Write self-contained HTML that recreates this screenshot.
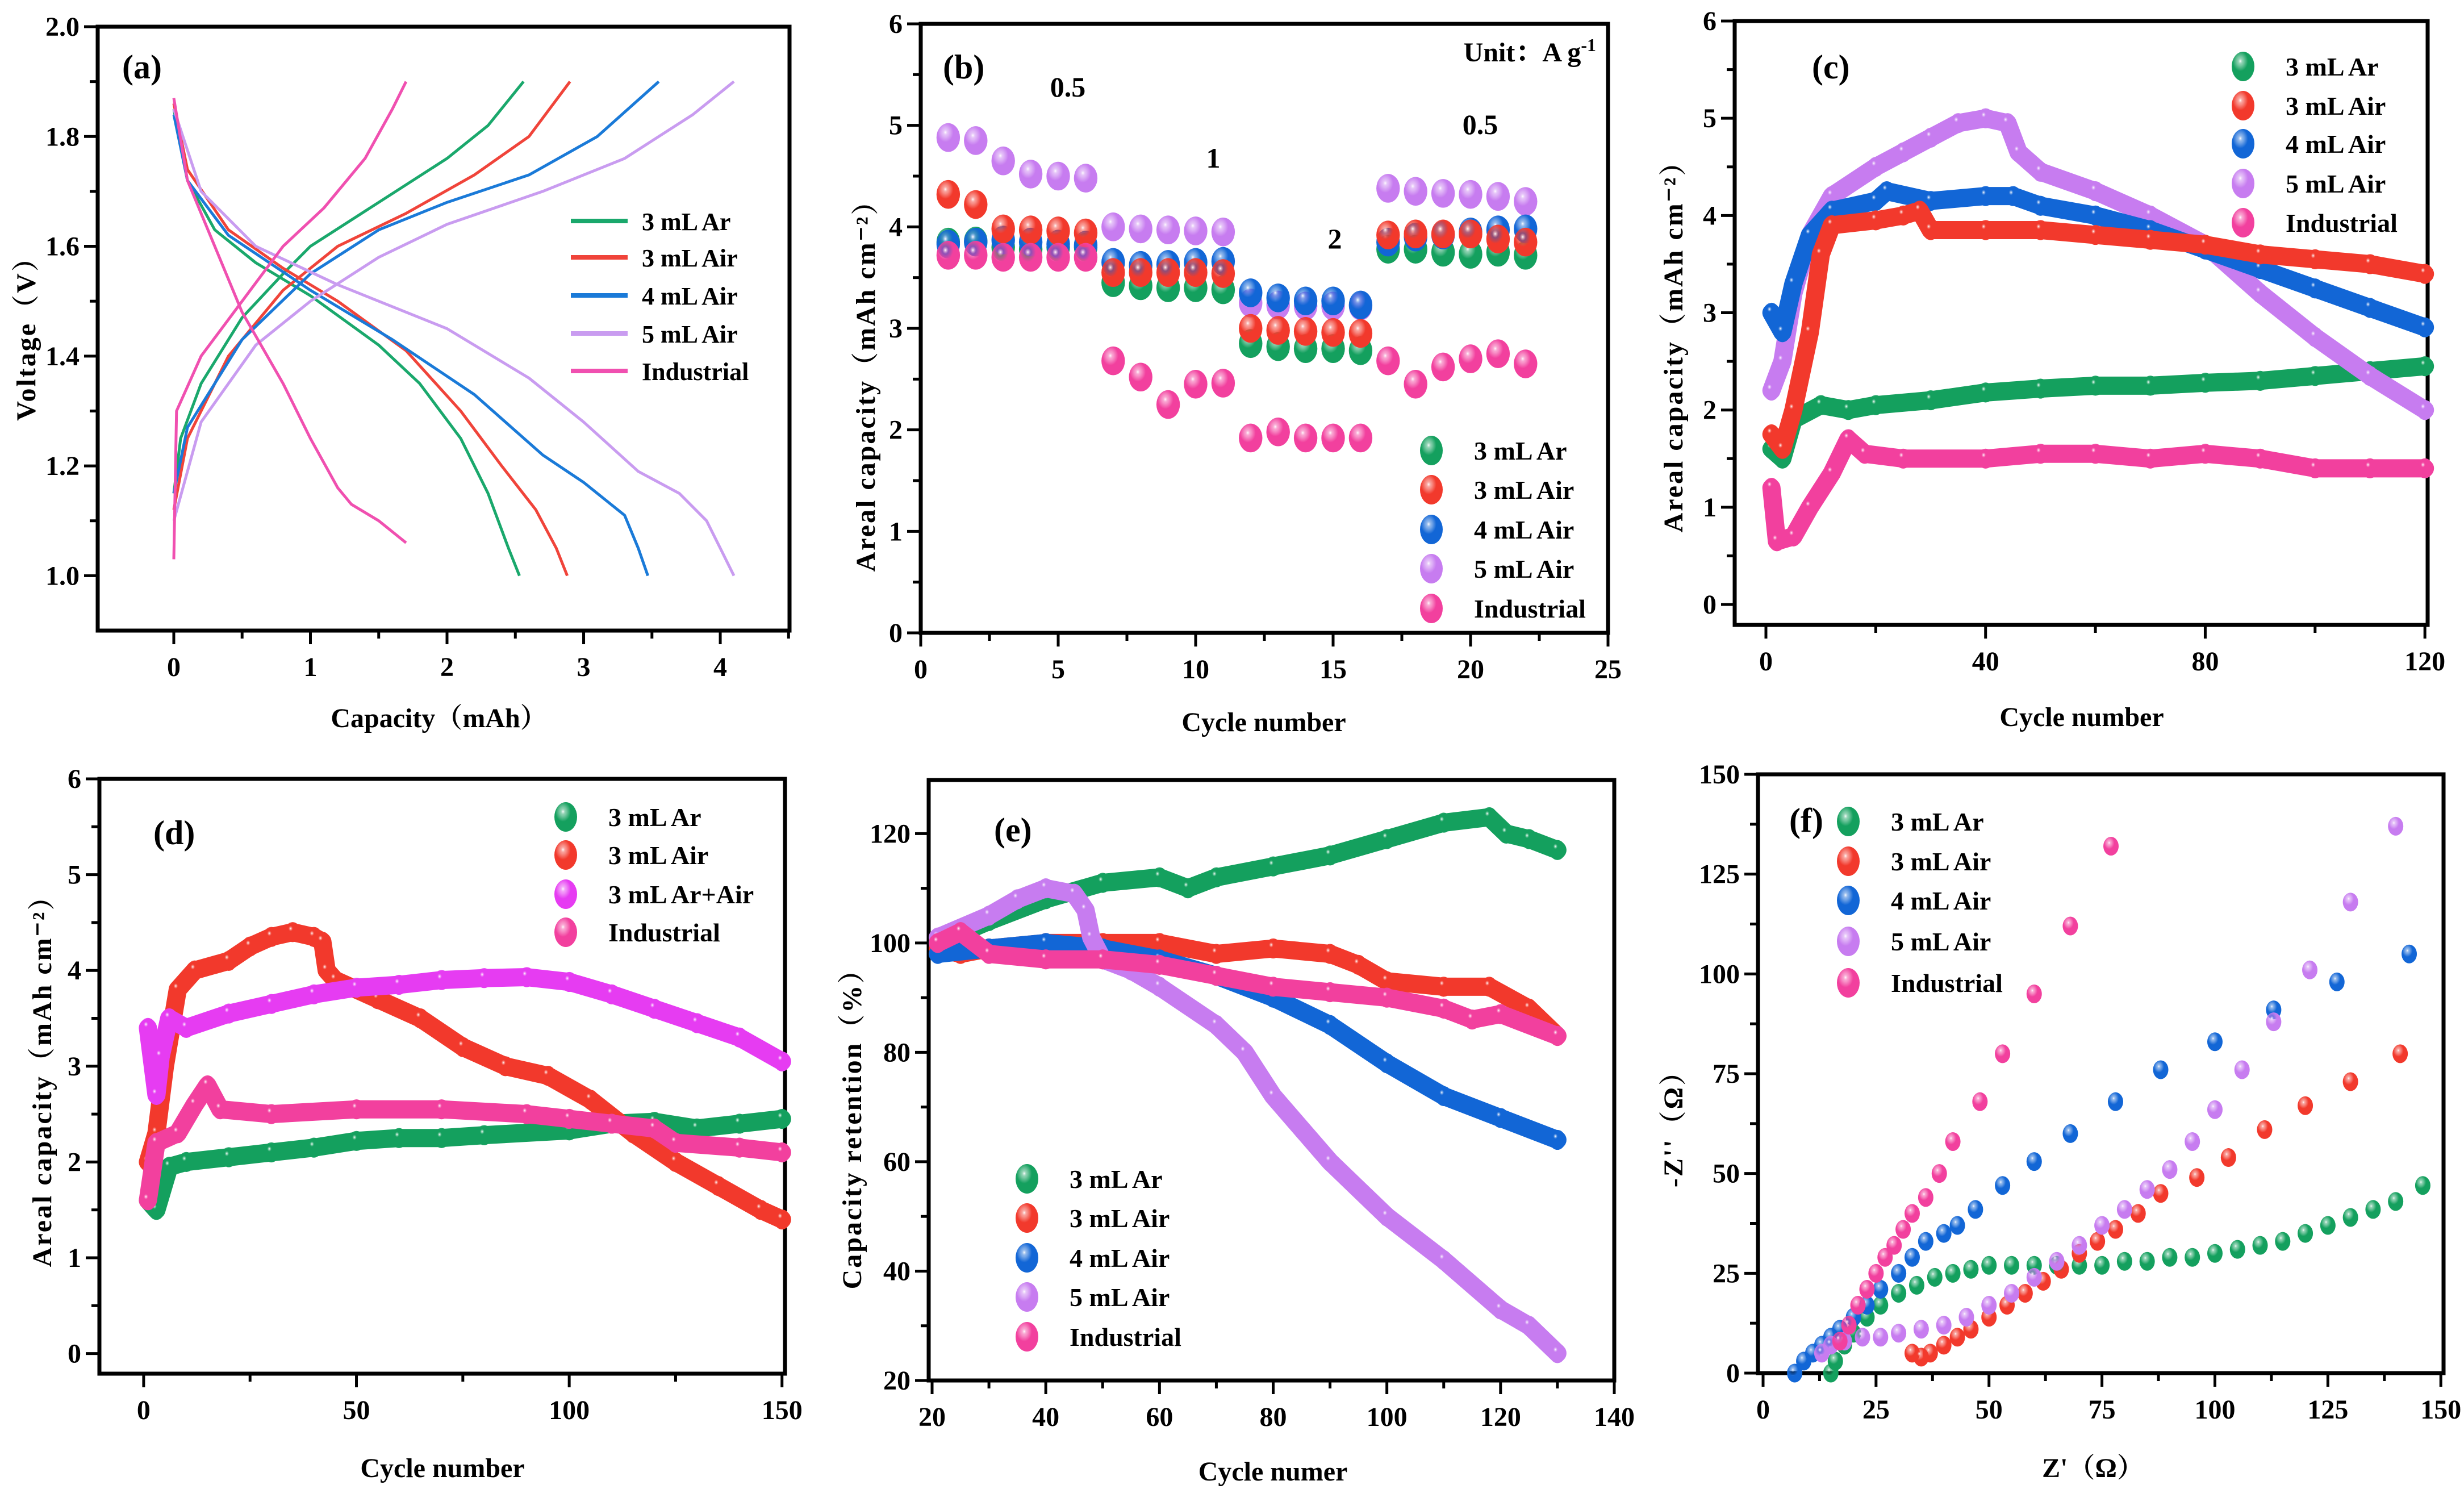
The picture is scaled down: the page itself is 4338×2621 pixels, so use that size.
<!DOCTYPE html>
<html><head><meta charset="utf-8"><style>
html,body{margin:0;padding:0;background:#fff}
svg{display:block}
text{font-family:"Liberation Serif","Noto Serif CJK SC",serif;font-weight:bold;fill:#000}
</style></head><body>
<svg id="fig" xmlns="http://www.w3.org/2000/svg" width="4338" height="2621" viewBox="0 0 4338 2621">
<defs id="defs"></defs>
</svg>
<script>
// ---------- Panel (a) data: charge/discharge curves [capacity, voltage] ----------
const aArCh=[[0,1.15],[0.05,1.25],[0.2,1.35],[0.5,1.47],[0.8,1.55],[1.0,1.6],[1.5,1.68],[2.0,1.76],[2.3,1.82],[2.56,1.9]];
const aArDis=[[0,1.85],[0.1,1.72],[0.3,1.63],[0.6,1.57],[1.0,1.51],[1.5,1.42],[1.8,1.35],[2.1,1.25],[2.3,1.15],[2.45,1.05],[2.53,1.0]];
const aAir3Ch=[[0,1.12],[0.1,1.25],[0.4,1.4],[0.8,1.52],[1.2,1.6],[1.7,1.66],[2.2,1.73],[2.6,1.8],[2.9,1.9]];
const aAir3Dis=[[0,1.86],[0.1,1.74],[0.4,1.63],[0.8,1.56],[1.2,1.5],[1.7,1.41],[2.1,1.3],[2.4,1.2],[2.65,1.12],[2.8,1.05],[2.88,1.0]];
const aAir4Ch=[[0,1.15],[0.1,1.27],[0.5,1.43],[1.0,1.55],[1.5,1.63],[2.0,1.68],[2.6,1.73],[3.1,1.8],[3.55,1.9]];
const aAir4Dis=[[0,1.84],[0.1,1.72],[0.4,1.62],[1.0,1.52],[1.6,1.43],[2.2,1.33],[2.7,1.22],[3.0,1.17],[3.3,1.11],[3.4,1.05],[3.47,1.0]];
const aAir5Ch=[[0,1.1],[0.2,1.28],[0.6,1.42],[1.0,1.5],[1.5,1.58],[2.0,1.64],[2.7,1.7],[3.3,1.76],[3.8,1.84],[4.1,1.9]];
const aAir5Dis=[[0,1.85],[0.2,1.7],[0.6,1.6],[1.2,1.53],[2.0,1.45],[2.6,1.36],[3.0,1.28],[3.4,1.19],[3.7,1.15],[3.9,1.1],[4.0,1.05],[4.1,1.0]];
const aIndCh=[[0,1.03],[0.02,1.3],[0.2,1.4],[0.5,1.5],[0.8,1.6],[1.1,1.67],[1.4,1.76],[1.6,1.85],[1.7,1.9]];
const aIndDis=[[0,1.87],[0.1,1.72],[0.3,1.6],[0.5,1.48],[0.8,1.35],[1.0,1.25],[1.2,1.16],[1.3,1.13],[1.5,1.1],[1.7,1.06]];
// ---------- Panel (b) data ----------
const bCycles=[1,2,3,4,5,6,7,8,9,10,11,12,13,14,15,16,17,18,19,20,21,22];
const bAir5=[4.88,4.85,4.65,4.52,4.5,4.48,4.0,3.98,3.97,3.96,3.95,3.25,3.23,3.22,3.22,3.22,4.38,4.35,4.33,4.32,4.3,4.25];
const bAr3=[3.85,3.86,3.8,3.78,3.8,3.8,3.45,3.42,3.4,3.4,3.38,2.85,2.82,2.8,2.8,2.78,3.78,3.78,3.75,3.73,3.75,3.72];
const bAir4=[3.83,3.85,3.87,3.85,3.83,3.82,3.65,3.62,3.63,3.65,3.66,3.35,3.3,3.27,3.27,3.23,3.85,3.9,3.92,3.95,3.97,3.98];
const bAir3=[4.32,4.22,3.98,3.97,3.96,3.94,3.55,3.55,3.55,3.55,3.54,3.0,2.98,2.97,2.96,2.95,3.92,3.93,3.93,3.93,3.88,3.85];
const bInd=[3.72,3.72,3.7,3.7,3.7,3.7,2.68,2.52,2.25,2.45,2.46,1.92,1.98,1.92,1.92,1.92,2.68,2.45,2.62,2.7,2.75,2.65];
// ---------- Panel (c) data ----------
const cArX=[1,3,5,10,15,20,30,40,50,60,70,80,90,100,110,120];
const cArY=[1.6,1.5,1.9,2.05,2.0,2.05,2.1,2.18,2.22,2.25,2.25,2.28,2.3,2.35,2.4,2.45];
const cAir3X=[1,3,5,8,10,12,20,25,28,30,40,50,60,70,80,90,100,110,120];
const cAir3Y=[1.75,1.6,2.0,2.8,3.6,3.9,3.95,4.0,4.05,3.85,3.85,3.85,3.8,3.75,3.7,3.6,3.55,3.5,3.4];
const cAir4X=[1,3,5,8,12,20,22,30,40,45,50,60,70,80,90,100,110,120];
const cAir4Y=[3.0,2.8,3.3,3.8,4.05,4.15,4.25,4.15,4.2,4.2,4.1,4.0,3.85,3.65,3.45,3.25,3.05,2.85];
const cAir5X=[1,3,5,8,12,20,25,30,35,40,44,46,50,60,70,80,90,100,110,120];
const cAir5Y=[2.2,2.5,3.2,3.8,4.2,4.5,4.65,4.8,4.95,5.0,4.95,4.65,4.45,4.25,4.0,3.7,3.2,2.75,2.35,2.0];
const cIndX=[1,2,5,8,12,15,18,25,40,50,60,70,80,90,100,110,120];
const cIndY=[1.2,0.65,0.7,1.0,1.35,1.7,1.55,1.5,1.5,1.55,1.55,1.5,1.55,1.5,1.4,1.4,1.4];
// ---------- Panel (d) data ----------
const dArX=[1,3,6,10,20,30,40,50,60,70,80,100,110,120,130,140,150];
const dArY=[1.6,1.5,1.95,2.0,2.05,2.1,2.15,2.22,2.25,2.25,2.28,2.33,2.4,2.42,2.35,2.4,2.45];
const dAirX=[1,3,5,8,12,20,25,30,35,40,42,43,45,55,65,75,85,95,105,115,125,135,145,150];
const dAirY=[2.0,2.3,3.0,3.8,4.0,4.1,4.25,4.35,4.4,4.35,4.3,4.0,3.9,3.7,3.5,3.2,3.0,2.9,2.65,2.3,2.0,1.75,1.5,1.4];
const dMixX=[1,3,4,6,10,20,30,40,50,60,70,80,90,100,110,120,130,140,150];
const dMixY=[3.4,2.7,3.1,3.5,3.4,3.55,3.65,3.75,3.82,3.85,3.9,3.92,3.93,3.88,3.75,3.6,3.45,3.3,3.05];
const dIndX=[1,3,8,12,15,18,30,50,70,90,100,110,120,125,140,150];
const dIndY=[1.6,2.2,2.3,2.6,2.8,2.55,2.5,2.55,2.55,2.5,2.45,2.4,2.35,2.2,2.15,2.1];
// ---------- Panel (e) data ----------
const eArX=[21,30,40,50,60,65,70,80,90,100,110,118,121,125,130];
const eArY=[100,104,108,111,112,110,112,114,116,119,122,123,120,119,117];
const eAir3X=[21,25,30,40,50,60,70,80,90,95,100,110,118,125,130];
const eAir3Y=[99,98,99,100,100,100,98,99,98,96,93,92,92,88,83];
const eAir4X=[21,30,40,50,60,70,80,90,100,110,120,130];
const eAir4Y=[98,99,100,99,97,94,90,85,78,72,68,64];
const eAir5X=[21,30,35,40,45,47,48,50,55,60,70,75,80,90,100,110,120,125,130];
const eAir5Y=[101,105,108,110,109,106,101,97,95,92,85,80,72,60,50,42,33,30,25];
const eIndX=[21,25,30,40,50,60,70,80,90,100,110,115,120,130];
const eIndY=[100,102,98,97,97,96,94,92,91,90,88,86,87,83];
// ---------- Panel (f) data: Z', -Z'' ----------
const fArRe=[15,16,18,20,23,26,30,34,38,42,46,50,55,60,65,70,75,80,85,90,95,100,105,110,115,120,125,130,135,140,146];
const fArIm=[0,3,7,10,14,17,20,22,24,25,26,27,27,27,27,27,27,28,28,29,29,30,31,32,33,35,37,39,41,43,47];
const fAir3Re=[33,35,37,40,43,46,50,54,58,62,66,70,74,78,83,88,96,103,111,120,130,141];
const fAir3Im=[5,4,5,7,9,11,14,17,20,23,26,30,33,36,40,45,49,54,61,67,73,80];
const fAir4Re=[7,9,11,13,15,17,20,23,26,30,33,36,40,43,47,53,60,68,78,88,100,113,127,143];
const fAir4Im=[0,3,5,7,9,11,14,17,21,25,29,33,35,37,41,47,53,60,68,76,83,91,98,105];
const fAir5Re=[13,15,18,22,26,30,35,40,45,50,55,60,65,70,75,80,85,90,95,100,106,113,121,130,140];
const fAir5Im=[5,7,8,9,9,10,11,12,14,17,20,24,28,32,37,41,46,51,58,66,76,88,101,118,137];
const fIndRe=[17,19,21,23,25,27,29,31,33,36,39,42,48,53,60,68,77];
const fIndIm=[8,12,17,21,25,29,32,36,40,44,50,58,68,80,95,112,132];

const NS="http://www.w3.org/2000/svg";
const svg=document.getElementById('fig');
const defs=document.getElementById('defs');
const COL={ar:'#14a05e',air3:'#f2392c',air4:'#1266d6',air5:'#c77cf0',ind:'#f2409e',mix:'#e63cf2'};
const LCOL={ar:'#1aa86c',air3:'#f0443a',air4:'#1a7ad8',air5:'#c99cf0',ind:'#f050b0'};
function el(tag,attrs,parent){const e=document.createElementNS(NS,tag);for(const k in attrs)e.setAttribute(k,attrs[k]);(parent||svg).appendChild(e);return e;}
// sphere gradients
for(const k in COL){
  const g=el('radialGradient',{id:'g-'+k,cx:'0.38',cy:'0.32',r:'0.75'},defs);
  el('stop',{offset:'0',"stop-color":'#ffffff'},g);
  el('stop',{offset:'0.18',"stop-color":COL[k],"stop-opacity":'0.55'},g);
  el('stop',{offset:'0.45',"stop-color":COL[k]},g);
  el('stop',{offset:'1',"stop-color":COL[k]},g);
}
function mkScale(d0,d1,p0,p1){return v=>p0+(v-d0)/(d1-d0)*(p1-p0);}
function panel(o){
  const g=el('g',{});
  
  
  o.sx=mkScale(o.xmin,o.xmax,o.x0,o.x1);
  o.sy=mkScale(o.ymin,o.ymax,o.y1,o.y0);
  o.g=g;
  // ticks
  const tg=el('g',{stroke:'#000',"stroke-width":5},g);
  
  
  for(let v=o.xt0;v<=o.xmax+1e-6;v+=o.xminor){
    const x=o.sx(v);const maj=Math.abs((v-o.xt0)/o.xstep-Math.round((v-o.xt0)/o.xstep))<1e-6;
    el('line',{x1:x,x2:x,y1:o.y1,y2:o.y1+(maj?24:14)},tg);
  }
  for(let v=o.yt0;v<=o.ymax+1e-6;v+=o.yminor){
    const y=o.sy(v);const maj=Math.abs((v-o.yt0)/o.ystep-Math.round((v-o.yt0)/o.ystep))<1e-6;
    el('line',{x1:o.x0,x2:o.x0-(maj?24:14),y1:y,y2:y},tg);
  }
  for(let v=o.xt0;v<=o.xmax+1e-6;v+=o.xstep){
    const t=el('text',{x:o.sx(v),y:o.y1+80,"text-anchor":'middle',"font-size":48,"font-weight":'normal'},g);
    t.textContent=o.xfmt?o.xfmt(v):String(Math.round(v*100)/100);
    
    
  }
  for(let v=o.yt0;v<=o.ymax+1e-6;v+=o.ystep){
    const t=el('text',{x:o.x0-32,y:o.sy(v)+16,"text-anchor":'end',"font-size":48,"font-weight":'normal'},g);
    t.textContent=o.yfmt?o.yfmt(v):String(Math.round(v*100)/100);
    
    
  }
  const fr=el('rect',{x:o.x0,y:o.y0,width:o.x1-o.x0,height:o.y1-o.y0,fill:'none',stroke:'#000',"stroke-width":7},g);
  
  
  const xt=el('text',{x:o.xtx,y:o.xty,"text-anchor":'middle',"font-size":48},g);
  xt.textContent=o.xtitle;
  
  
  const yt=el('text',{x:0,y:0,"text-anchor":'middle',"font-size":48,"letter-spacing":o.yls||0,transform:`translate(${o.ytx},${o.yty}) rotate(-90)`},g);
  yt.textContent=o.ytitle;
  
  
  const pl=el('text',{x:o.lx,y:o.ly,"font-size":60,"font-weight":'bold'},g);
  pl.textContent=o.label;
  
  
  return o;
}
function curve(o,pts,color,name){
  const d=pts.map((p,i)=>(i?'L':'M')+o.sx(p[0]).toFixed(1)+','+o.sy(p[1]).toFixed(1)).join(' ');
  const p=el('path',{d:d,fill:'none',stroke:color,"stroke-width":5,"stroke-linejoin":'round'},o.g);
  
  
}
function spheres(o,xs,ys,key,r,name,band){
  const g=el('g',{},o.g);
  
  
  if(band){
    const d=xs.map((x,i)=>(i?'L':'M')+o.sx(x).toFixed(1)+','+o.sy(ys[i]).toFixed(1)).join(' ');
    const b=el('path',{d:d,fill:'none',stroke:COL[key],"stroke-width":2*r,"stroke-linejoin":'round',"stroke-linecap":'round'},g);
    
    
  }
  xs.forEach((x,i)=>{
    const c=el('ellipse',{cx:o.sx(x),cy:o.sy(ys[i]),rx:r*0.9,ry:r*1.1,fill:'url(#g-'+key+')'},g);
    
    
  });
}
function legend(o,items,x,ys,fs,kind){
  items.forEach((it,i)=>{
    const g=el('g',{},o.g);
    
    
    if(kind==='line'){
      el('line',{x1:x,x2:x+100,y1:ys[i],y2:ys[i],stroke:LCOL[it[1]],"stroke-width":8},g);
    }else{
      el('ellipse',{cx:x,cy:ys[i],rx:20,ry:26,fill:'url(#g-'+it[1]+')'},g);
    }
    const t=el('text',{x:kind==='line'?x+125:x+75,y:ys[i]+16,"font-size":fs},g);
    t.textContent=it[0];
  });
}
const f1=v=>v.toFixed(1);
// Panel (a)
const A=panel({name:'panel-a',x0:172,x1:1390,y0:47,y1:1110,xmin:-0.557,xmax:4.507,ymin:0.9,ymax:2.0,
  xt0:0,xstep:1,xminor:0.5,yt0:1.0,ystep:0.2,yminor:0.1,yfmt:f1,
  xtitle:'Capacity（mAh）',xtx:773,xty:1280,ytitle:'Voltage（V）',ytx:62,yty:584,yls:3,label:'(a)',lx:215,ly:138});
curve(A,aArCh,LCOL.ar,'curve-3ml-ar-charge');curve(A,aArDis,LCOL.ar,'curve-3ml-ar-discharge');
curve(A,aAir3Ch,LCOL.air3,'curve-3ml-air-charge');curve(A,aAir3Dis,LCOL.air3,'curve-3ml-air-discharge');
curve(A,aAir4Ch,LCOL.air4,'curve-4ml-air-charge');curve(A,aAir4Dis,LCOL.air4,'curve-4ml-air-discharge');
curve(A,aAir5Ch,LCOL.air5,'curve-5ml-air-charge');curve(A,aAir5Dis,LCOL.air5,'curve-5ml-air-discharge');
curve(A,aIndCh,LCOL.ind,'curve-industrial-charge');curve(A,aIndDis,LCOL.ind,'curve-industrial-discharge');
legend(A,[['3 mL Ar','ar'],['3 mL Air','air3'],['4 mL Air','air4'],['5 mL Air','air5'],['Industrial','ind']],1005,[389,453,520,587,653],44,'line');
// Panel (b)
const B=panel({name:'panel-b',x0:1621,x1:2831,y0:42,y1:1114,xmin:0,xmax:25,ymin:0,ymax:6,
  xt0:0,xstep:5,xminor:2.5,yt0:0,ystep:1,yminor:0.5,
  xtitle:'Cycle number',xtx:2225,xty:1287,ytitle:'Areal capacity（mAh cm⁻²）',ytx:1540,yty:667,yls:3,label:'(b)',lx:1660,ly:138});
spheres(B,bCycles,bAir5,'air5',23,'series-5ml-air');
spheres(B,bCycles,bAr3,'ar',23,'series-3ml-ar');
spheres(B,bCycles,bAir4,'air4',23,'series-4ml-air');
spheres(B,bCycles,bAir3,'air3',23,'series-3ml-air');
spheres(B,bCycles,bInd,'ind',23,'series-industrial');
[['0.5',1880,170],['1',2136,295],['2',2350,437],['0.5',2606,236]].forEach(r=>{const t=el('text',{x:r[1],y:r[2],"text-anchor":'middle',"font-size":50},B.g);t.textContent=r[0];});
{const t=el('text',{x:2810,y:108,"text-anchor":'end',"font-size":48},B.g);t.innerHTML='Unit：A g<tspan dy="-18" font-size="32">-1</tspan>';}
legend(B,[['3 mL Ar','ar'],['3 mL Air','air3'],['4 mL Air','air4'],['5 mL Air','air5'],['Industrial','ind']],2520,[793,862,932,1001,1071],46,'dot');
// Panel (c)
const C=panel({name:'panel-c',x0:3054,x1:4274,y0:37,y1:1100,xmin:-5.69,xmax:120.5,ymin:-0.21,ymax:6,
  xt0:0,xstep:40,xminor:20,yt0:0,ystep:1,yminor:0.5,
  xtitle:'Cycle number',xtx:3665,xty:1278,ytitle:'Areal capacity（mAh cm⁻²）',ytx:2962,yty:598,yls:3,label:'(c)',lx:3190,ly:138});
spheres(C,cIndX,cIndY,'ind',16,'series-industrial',1);
spheres(C,cArX,cArY,'ar',16,'series-3ml-ar',1);
spheres(C,cAir5X,cAir5Y,'air5',16,'series-5ml-air',1);
spheres(C,cAir4X,cAir4Y,'air4',16,'series-4ml-air',1);
spheres(C,cAir3X,cAir3Y,'air3',16,'series-3ml-air',1);
legend(C,[['3 mL Ar','ar'],['3 mL Air','air3'],['4 mL Air','air4'],['5 mL Air','air5'],['Industrial','ind']],3949,[117,186,253,323,392],46,'dot');
// Panel (d)
const D=panel({name:'panel-d',x0:175,x1:1382,y0:1371,y1:2418,xmin:-10.4,xmax:150.7,ymin:-0.21,ymax:6,
  xt0:0,xstep:50,xminor:25,yt0:0,ystep:1,yminor:0.5,
  xtitle:'Cycle number',xtx:779,xty:2600,ytitle:'Areal capacity（mAh cm⁻²）',ytx:90,yty:1891,yls:3,label:'(d)',lx:270,ly:1486});
spheres(D,dArX,dArY,'ar',16,'series-3ml-ar',1);
spheres(D,dAirX,dAirY,'air3',16,'series-3ml-air',1);
spheres(D,dMixX,dMixY,'mix',16,'series-3ml-ar-air',1);
spheres(D,dIndX,dIndY,'ind',16,'series-industrial',1);
legend(D,[['3 mL Ar','ar'],['3 mL Air','air3'],['3 mL Ar+Air','mix'],['Industrial','ind']],996,[1438,1505,1574,1641],46,'dot');
// Panel (e)
const E=panel({name:'panel-e',x0:1635,x1:2842,y0:1373,y1:2430,xmin:19.4,xmax:140,ymin:20,ymax:129.8,
  xt0:20,xstep:20,xminor:10,yt0:20,ystep:20,yminor:10,
  xtitle:'Cycle numer',xtx:2241,xty:2606,ytitle:'Capacity retention（%）',ytx:1516,yty:1975,yls:3,label:'(e)',lx:1750,ly:1481});
spheres(E,eArX,eArY,'ar',16,'series-3ml-ar',1);
spheres(E,eAir3X,eAir3Y,'air3',16,'series-3ml-air',1);
spheres(E,eAir4X,eAir4Y,'air4',16,'series-4ml-air',1);
spheres(E,eAir5X,eAir5Y,'air5',16,'series-5ml-air',1);
spheres(E,eIndX,eIndY,'ind',16,'series-industrial',1);
legend(E,[['3 mL Ar','ar'],['3 mL Air','air3'],['4 mL Air','air4'],['5 mL Air','air5'],['Industrial','ind']],1808,[2075,2144,2214,2283,2353],46,'dot');
// Panel (f)
const F=panel({name:'panel-f',x0:3095,x1:4302,y0:1363,y1:2417,xmin:-1.13,xmax:150.6,ymin:0,ymax:150,
  xt0:0,xstep:25,xminor:12.5,yt0:0,ystep:25,yminor:12.5,
  xtitle:"Z'（Ω）",xtx:3685,xty:2600,ytitle:"-Z''（Ω）",ytx:2962,yty:1975,yls:3,label:'(f)',lx:3150,ly:1464});
spheres(F,fArRe,fArIm,'ar',15,'series-3ml-ar');
spheres(F,fAir3Re,fAir3Im,'air3',15,'series-3ml-air');
spheres(F,fAir4Re,fAir4Im,'air4',15,'series-4ml-air');
spheres(F,fAir5Re,fAir5Im,'air5',15,'series-5ml-air');
spheres(F,fIndRe,fIndIm,'ind',15,'series-industrial');
legend(F,[['3 mL Ar','ar'],['3 mL Air','air3'],['4 mL Air','air4'],['5 mL Air','air5'],['Industrial','ind']],3254,[1446,1516,1585,1657,1730],46,'dot');
</script>
</body></html>
